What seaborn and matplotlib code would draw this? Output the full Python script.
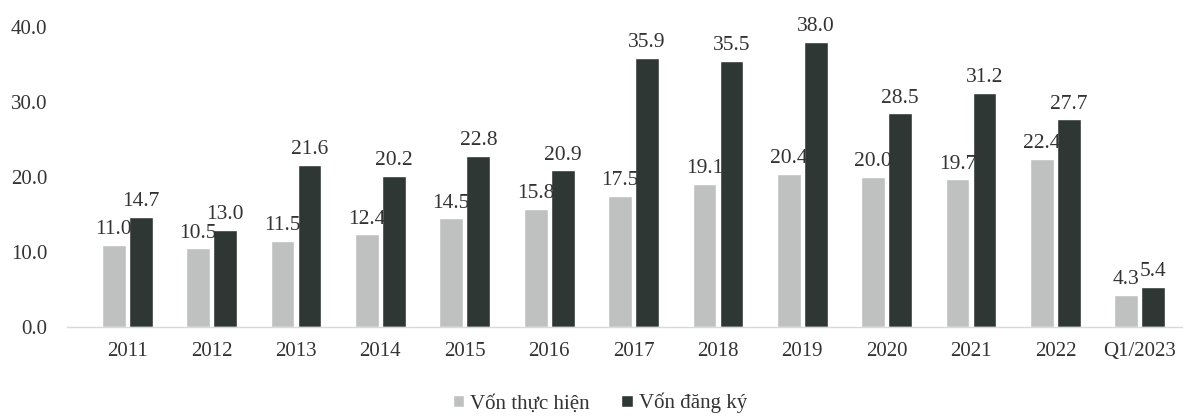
import pandas as pd
import matplotlib
matplotlib.use("Agg")
import matplotlib.pyplot as plt
import seaborn as sns

# Data
years = ["2011", "2012", "2013", "2014", "2015", "2016", "2017",
         "2018", "2019", "2020", "2021", "2022", "Q1/2023"]
von_thuc_hien = [11.0, 10.5, 11.5, 12.4, 14.5, 15.8, 17.5, 19.1, 20.4, 20.0, 19.7, 22.4, 4.3]
von_dang_ky = [14.7, 13.0, 21.6, 20.2, 22.8, 20.9, 35.9, 35.5, 38.0, 28.5, 31.2, 27.7, 5.4]
series_names = ["Vốn thực hiện", "Vốn đăng ký"]
y_ticks = [0, 10, 20, 30, 40]

df = pd.DataFrame({
    "Year": years * 2,
    "Value": von_thuc_hien + von_dang_ky,
    "Series": [series_names[0]] * len(years) + [series_names[1]] * len(years),
})

sns.set_theme(style="white")
plt.rcParams["font.family"] = ["Liberation Serif", "DejaVu Serif"]

fig = plt.figure(figsize=(11.88, 4.2), dpi=100)
ax = fig.add_axes([0.056, 0.221, 0.939, 0.715])

sns.barplot(data=df, x="Year", y="Value", hue="Series",
            palette=["#bfc0c0", "#2e3834"], width=0.64, gap=0.12,
            ax=ax, legend=True)

# Value labels above bars
for cont in ax.containers:
    ax.bar_label(cont, fmt="%.1f", padding=4, fontsize=15.5, color="#333333", clip_on=False)

ax.set_ylim(0, 40)
ax.set_xlim(-0.72, 12.5)
ax.set_yticks(y_ticks)
ax.set_yticklabels([f"{v:.1f}" for v in y_ticks])
ax.set_xlabel("")
ax.set_ylabel("")
ax.tick_params(axis="both", labelsize=15, colors="#333333", length=0)
ax.tick_params(axis="x", pad=11)
ax.tick_params(axis="y", pad=14)

for side in ["top", "right", "left"]:
    ax.spines[side].set_visible(False)
ax.spines["bottom"].set_color("#d9d9d9")
ax.spines["bottom"].set_linewidth(1)

leg = fig.legend(*ax.get_legend_handles_labels(), loc="center", bbox_to_anchor=(0.505, 0.04),
                 ncol=2, frameon=False, fontsize=15, handlelength=0.55, handleheight=0.55,
                 handletextpad=0.3, columnspacing=1.5, borderpad=0)
ax.get_legend().remove()
for t in leg.get_texts():
    t.set_color("#333333")

fig.savefig("out.png", dpi=100)
